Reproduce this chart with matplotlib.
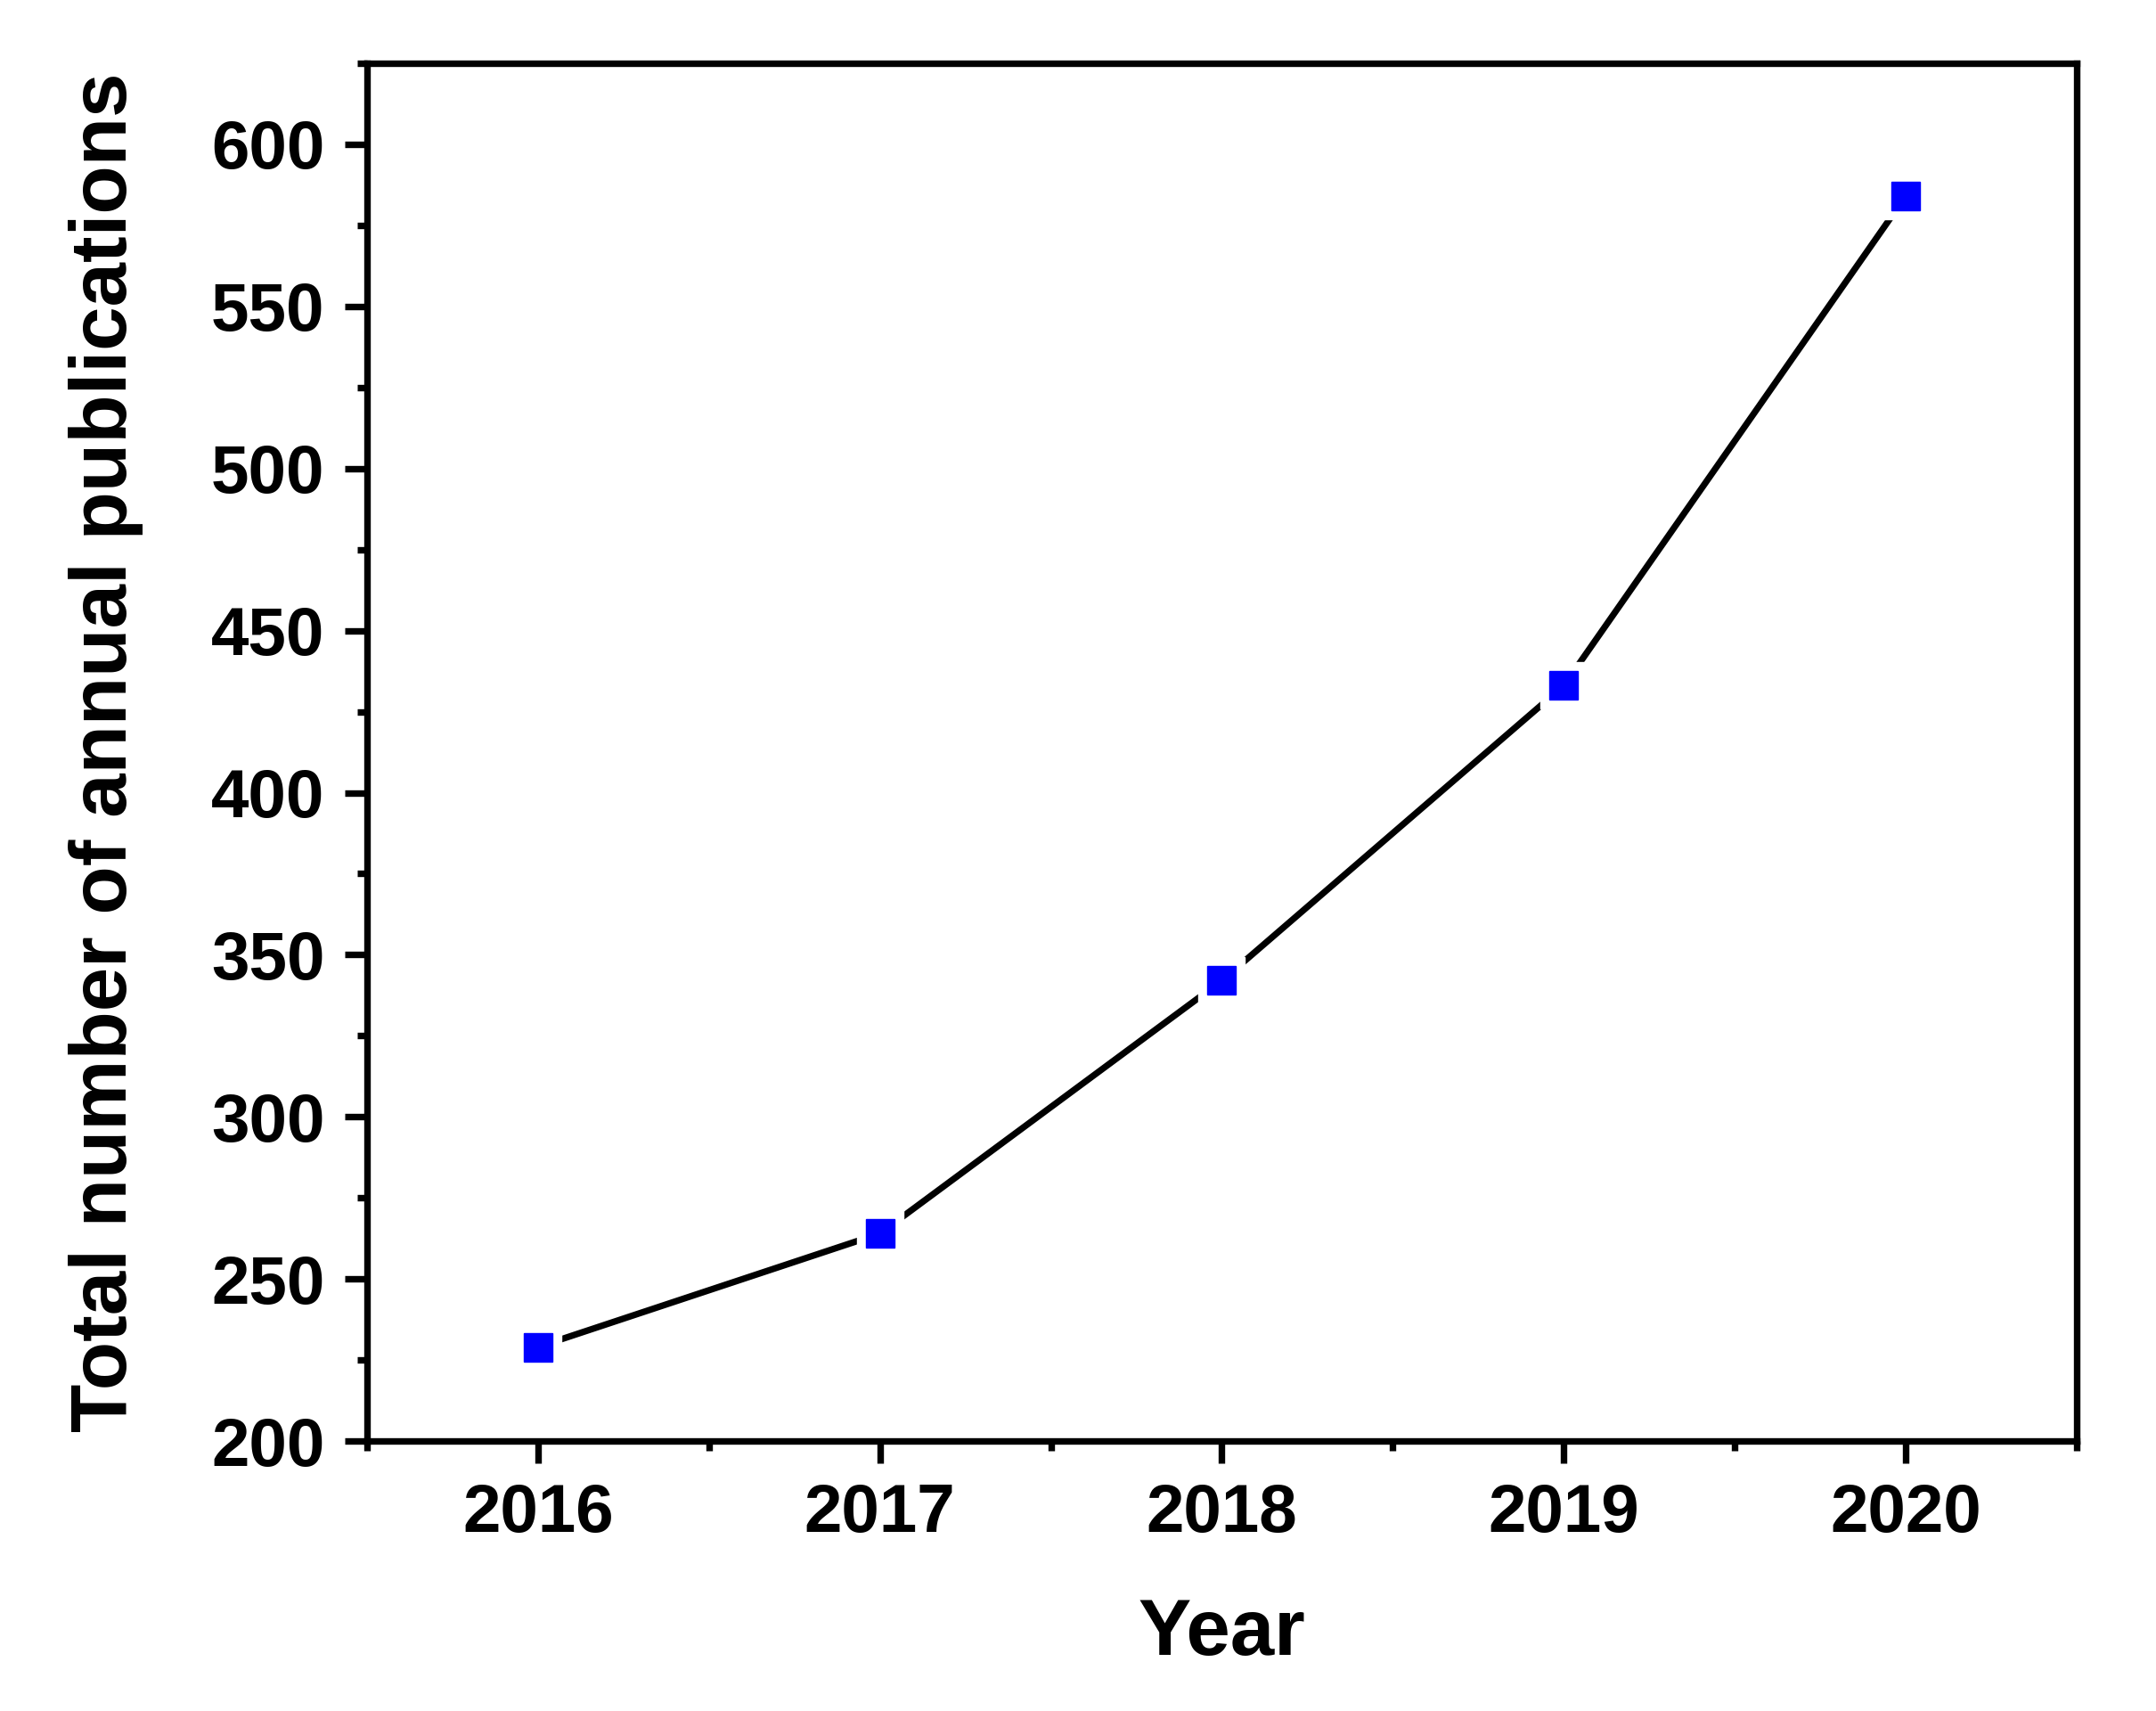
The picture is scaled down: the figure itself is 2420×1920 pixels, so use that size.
import matplotlib
matplotlib.use("Agg")
import matplotlib.pyplot as plt
from matplotlib.ticker import MultipleLocator

years = [2016, 2017, 2018, 2019, 2020]
publications = [229, 264, 342, 433, 584]

plt.rcParams['font.family'] = ['Liberation Sans', 'DejaVu Sans']
plt.rcParams['font.weight'] = 'bold'

fig = plt.figure(figsize=(24.2, 19.2), dpi=100)
ax = fig.add_axes([0.1702, 0.1578, 0.9632 - 0.1702, 0.963 - 0.1578])

ax.plot(years, publications, color='black', lw=5.2, solid_capstyle='round', zorder=2)
ax.plot(years, publications, ls='none', marker='s', ms=38, mfc='white', mec='white', zorder=3)
ax.plot(years, publications, ls='none', marker='s', ms=23, mfc='#0000ff', mec='#0000ff', zorder=4)

ax.set_xlim(2015.5, 2020.5)
ax.set_ylim(200, 625)
ax.set_xticks(years)
ax.xaxis.set_minor_locator(MultipleLocator(0.5))
ax.yaxis.set_major_locator(MultipleLocator(50))
ax.yaxis.set_minor_locator(MultipleLocator(25))

for s in ax.spines.values():
    s.set_linewidth(5.3)

ax.tick_params(which='major', direction='out', length=18, width=5.3, labelsize=55, pad=16)
ax.tick_params(which='minor', direction='out', length=8, width=5.3)
for lab in ax.get_xticklabels() + ax.get_yticklabels():
    lab.set_fontweight('bold')

ax.set_xlabel('Year', fontsize=64, fontweight='bold', va='center')
ax.set_ylabel('Total number of annual publications', fontsize=64, fontweight='bold', va='center')
ax.xaxis.set_label_coords(0.5, -0.1404)
ax.yaxis.set_label_coords(-0.1527, 0.5)

fig.savefig('out.png', dpi=100, facecolor='white')
